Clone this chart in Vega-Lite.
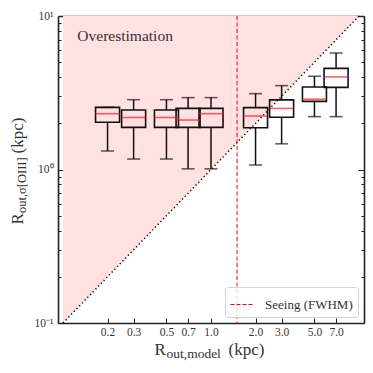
{
  "$schema": "https://vega.github.io/schema/vega-lite/v6.json",
  "width": 306,
  "height": 307,
  "autosize": {"type": "none"},
  "padding": {"left": 58, "top": 16, "right": 9, "bottom": 50},
  "background": "white",
  "config": {
    "view": {"stroke": null},
    "font": "Liberation Serif",
    "axis": {
      "grid": false,
      "zindex": 1,
      "domain": false,
      "tickColor": "#222",
      "tickWidth": 1,
      "labelFont": "Liberation Serif",
      "titleFont": "Liberation Serif",
      "labelColor": "#333",
      "titleColor": "#333",
      "titleFontWeight": "normal",
      "labelOverlap": false,
      "labelFlush": false
    }
  },
  "datasets": {
    "diag": [
      {"x": 0.1, "y": 0.1, "top": 10},
      {"x": 10, "y": 10, "top": 10}
    ],
    "boxes": [
      {"x": 0.2, "lo": 1.32, "q1": 2.03, "med": 2.31, "q3": 2.54, "hi": 2.54},
      {"x": 0.3, "lo": 1.17, "q1": 1.88, "med": 2.18, "q3": 2.44, "hi": 2.85},
      {"x": 0.5, "lo": 1.17, "q1": 1.88, "med": 2.18, "q3": 2.44, "hi": 2.85},
      {"x": 0.7, "lo": 1.01, "q1": 1.88, "med": 2.10, "q3": 2.50, "hi": 2.94},
      {"x": 1.0, "lo": 1.01, "q1": 1.88, "med": 2.31, "q3": 2.50, "hi": 2.94},
      {"x": 2.0, "lo": 1.07, "q1": 1.87, "med": 2.23, "q3": 2.53, "hi": 3.12},
      {"x": 3.0, "lo": 1.47, "q1": 2.19, "med": 2.50, "q3": 2.84, "hi": 3.52},
      {"x": 5.0, "lo": 2.21, "q1": 2.78, "med": 2.87, "q3": 3.45, "hi": 4.05},
      {"x": 7.0, "lo": 2.21, "q1": 3.43, "med": 4.01, "q3": 4.56, "hi": 5.74}
    ],
    "seeing": [{"x": 1.5, "label": "Seeing (FWHM)"}],
    "note": [{"x": 0.125, "y": 6.87, "text": "Overestimation"}]
  },
  "resolve": {"axis": {"x": "independent", "y": "independent"}},
  "layer": [
    {
      "data": {"name": "diag"},
      "mark": {"type": "area", "color": "#ffe1e1", "opacity": 1},
      "encoding": {
        "x": {"field": "x", "type": "quantitative", "scale": {"type": "log", "domain": [0.1, 10], "nice": false},
          "axis": {"orient": "bottom", "values": [0.2, 0.3, 0.5, 0.7, 1, 2, 3, 5, 7], "format": ".1f",
            "tickSize": -5, "labelPadding": 8, "labelFontSize": 11.5,
            "domain": true, "domainColor": "#222", "domainWidth": 1.6,
            "title": "R", "titleFontSize": 17, "titleX": 96, "titleY": 31.5, "titleAlign": "left", "titleBaseline": "alphabetic", "titleAngle": 0}},
        "y": {"field": "y", "type": "quantitative", "scale": {"type": "log", "domain": [0.1, 10], "nice": false},
          "axis": {"orient": "left", "values": [0.1, 1, 10],
            "labelExpr": "datum.value > 5 ? '10¹' : (datum.value > 0.5 ? '10⁰' : '10⁻¹')",
            "tickSize": -6, "labelPadding": 11, "labelFontSize": 11.5,
            "domain": true, "domainColor": "#222", "domainWidth": 1.6,
            "title": "R", "titleFontSize": 17, "titleX": -36, "titleY": 208, "titleAlign": "left", "titleBaseline": "alphabetic", "titleAngle": 270}},
        "y2": {"field": "top"}
      }
    },
    {
      "data": {"name": "diag"},
      "mark": {"type": "line", "color": "#111", "strokeWidth": 1.5, "strokeDash": [1.3, 2.6]},
      "encoding": {
        "x": {"field": "x", "type": "quantitative", "scale": {"type": "log", "domain": [0.1, 10], "nice": false},
          "axis": {"orient": "top", "values": [0.2, 0.3, 0.5, 0.7, 1, 2, 3, 5, 7], "labels": false, "tickSize": -5,
            "domain": true, "domainColor": "#222", "domainWidth": 1.6, "title": null}},
        "y": {"field": "y", "type": "quantitative", "scale": {"type": "log", "domain": [0.1, 10], "nice": false},
          "axis": {"orient": "right", "values": [0.1, 1, 10], "labels": false, "tickSize": -6,
            "domain": true, "domainColor": "#222", "domainWidth": 1.6, "title": null}}
      }
    },
    {
      "data": {"name": "seeing"},
      "mark": {"type": "rule", "strokeDash": [4, 2.5], "strokeWidth": 1},
      "encoding": {
        "x": {"field": "x", "type": "quantitative", "scale": {"type": "log", "domain": [0.1, 10], "nice": false}, "axis": null},
        "color": {"field": "label", "type": "nominal", "scale": {"range": ["#ff0000"]},
          "legend": {"title": null, "orient": "bottom-right", "offset": 6, "symbolType": "stroke",
            "symbolDash": [4, 2], "symbolStrokeWidth": 1, "symbolSize": 576, "symbolStrokeColor": "#ff0000",
            "labelFont": "Liberation Serif", "labelFontSize": 13, "labelColor": "#333", "labelOffset": 10,
            "fillColor": "rgba(255,255,255,0.8)", "strokeColor": "#d4d4d4", "cornerRadius": 3, "padding": 5}}
      }
    },
    {
      "data": {"name": "boxes"},
      "mark": {"type": "rule", "color": "#111", "strokeWidth": 1.5},
      "encoding": {
        "x": {"field": "x", "type": "quantitative", "scale": {"type": "log", "domain": [0.1, 10], "nice": false},
          "axis": {"orient": "bottom", "labels": false, "ticks": false, "domain": false,
            "title": "out,model", "titleFontSize": 13.5, "titleX": 108, "titleY": 34, "titleAlign": "left", "titleBaseline": "alphabetic", "titleAngle": 0}},
        "y": {"field": "lo", "type": "quantitative", "scale": {"type": "log", "domain": [0.1, 10], "nice": false},
          "axis": {"orient": "left", "values": [0.2, 0.3, 0.4, 0.5, 0.6, 0.7, 0.8, 0.9, 2, 3, 4, 5, 6, 7, 8, 9], "labels": false, "tickSize": -3,
            "title": "out,σ[OIII]", "titleFontSize": 12.5, "titleX": -33, "titleY": 196.5, "titleAlign": "left", "titleBaseline": "alphabetic", "titleAngle": 270}},
        "y2": {"field": "q1"}
      }
    },
    {
      "data": {"name": "boxes"},
      "mark": {"type": "rule", "color": "#111", "strokeWidth": 1.5},
      "encoding": {
        "x": {"field": "x", "type": "quantitative", "scale": {"type": "log", "domain": [0.1, 10], "nice": false},
          "axis": {"orient": "bottom", "labels": false, "ticks": false, "domain": false,
            "title": "(kpc)", "titleFontSize": 17, "titleX": 170, "titleY": 31.5, "titleAlign": "left", "titleBaseline": "alphabetic", "titleAngle": 0}},
        "y": {"field": "q3", "type": "quantitative", "scale": {"type": "log", "domain": [0.1, 10], "nice": false},
          "axis": {"orient": "right", "values": [0.2, 0.3, 0.4, 0.5, 0.6, 0.7, 0.8, 0.9, 2, 3, 4, 5, 6, 7, 8, 9], "labels": false, "tickSize": -3, "title": null}},
        "y2": {"field": "hi"}
      }
    },
    {
      "data": {"name": "boxes"},
      "mark": {"type": "bar", "width": 24, "fill": "transparent", "stroke": "#111", "strokeWidth": 1.6},
      "encoding": {
        "x": {"field": "x", "type": "quantitative", "scale": {"type": "log", "domain": [0.1, 10], "nice": false}, "axis": null},
        "y": {"field": "q1", "type": "quantitative", "scale": {"type": "log", "domain": [0.1, 10], "nice": false},
          "axis": {"orient": "left", "labels": false, "ticks": false, "domain": false,
            "title": "(kpc)", "titleFontSize": 17, "titleX": -36, "titleY": 137, "titleAlign": "left", "titleBaseline": "alphabetic", "titleAngle": 270}},
        "y2": {"field": "q3"}
      }
    },
    {
      "data": {"name": "boxes"},
      "mark": {"type": "tick", "orient": "horizontal", "size": 24, "thickness": 1.6, "color": "#ff1a1a"},
      "encoding": {
        "x": {"field": "x", "type": "quantitative", "scale": {"type": "log", "domain": [0.1, 10], "nice": false}, "axis": null},
        "y": {"field": "med", "type": "quantitative", "scale": {"type": "log", "domain": [0.1, 10], "nice": false}, "axis": null}
      }
    },
    {
      "data": {"name": "boxes"},
      "mark": {"type": "tick", "orient": "horizontal", "size": 13, "thickness": 1.5, "color": "#111"},
      "encoding": {
        "x": {"field": "x", "type": "quantitative", "scale": {"type": "log", "domain": [0.1, 10], "nice": false}, "axis": null},
        "y": {"field": "lo", "type": "quantitative", "scale": {"type": "log", "domain": [0.1, 10], "nice": false}, "axis": null}
      }
    },
    {
      "data": {"name": "boxes"},
      "mark": {"type": "tick", "orient": "horizontal", "size": 13, "thickness": 1.5, "color": "#111"},
      "encoding": {
        "x": {"field": "x", "type": "quantitative", "scale": {"type": "log", "domain": [0.1, 10], "nice": false}, "axis": null},
        "y": {"field": "hi", "type": "quantitative", "scale": {"type": "log", "domain": [0.1, 10], "nice": false}, "axis": null}
      }
    },
    {
      "data": {"name": "note"},
      "mark": {"type": "text", "align": "left", "baseline": "alphabetic", "font": "Liberation Serif", "fontSize": 15.5, "color": "#333"},
      "encoding": {
        "x": {"field": "x", "type": "quantitative", "scale": {"type": "log", "domain": [0.1, 10], "nice": false}, "axis": null},
        "y": {"field": "y", "type": "quantitative", "scale": {"type": "log", "domain": [0.1, 10], "nice": false}, "axis": null},
        "text": {"field": "text"}
      }
    }
  ]
}
